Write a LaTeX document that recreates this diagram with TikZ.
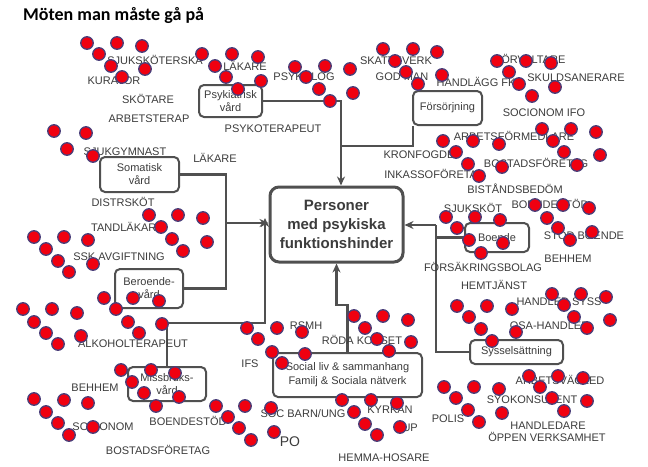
\documentclass[tikz,border=0pt]{standalone}
\usepackage{fontspec}
\setmainfont{Liberation Sans}
\newfontfamily\titlefont{Carlito}
\usetikzlibrary{arrows.meta}
\definecolor{txt}{HTML}{3C3C3C}
\definecolor{ln}{HTML}{505050}
\definecolor{dotred}{HTML}{F00010}
\definecolor{dotrim}{HTML}{4A3F7A}
\begin{document}
\begin{tikzpicture}[x=1pt,y=-1pt,
 lbl/.style={inner sep=0pt, text height=8pt, text depth=0pt, font=\fontsize{11}{13}\selectfont, text=txt},
 box/.style={draw=ln, line width=2pt, rounded corners=5pt, align=center, inner sep=0pt, font=\fontsize{11}{13}\selectfont, text=txt},
 conn/.style={draw=ln, line width=2.2pt},
 arr/.style={conn, -{Stealth[length=9pt,width=8pt]}},
 dot/.style={circle, fill=dotred, draw=dotrim, line width=1.3pt, minimum size=12.5pt, inner sep=0pt}]
\useasboundingbox[fill=white] (0,0) rectangle (648,466);

\node[anchor=base west, inner sep=0pt, font=\titlefont\bfseries\fontsize{18}{21}\selectfont, text=black] (title) at (23,20.5) {Möten man måste gå på};

% boxes
\node[box, line width=3pt, rounded corners=9pt, minimum width=133pt, minimum height=75pt, font=\bfseries\fontsize{15}{19}\selectfont] (center) at (336.5,224.5) {Personer\\med psykiska\\funktionshinder};
\node[box, minimum width=63pt, minimum height=32pt] (psyk) at (230.5,101) {Psykiatrisk\\vård};
\node[box, minimum width=69pt, minimum height=34pt] (fors) at (447.5,108) {Försörjning};
\node[box, minimum width=79pt, minimum height=35pt] (som) at (139.5,174.5) {Somatisk\\vård};
\node[box, minimum width=68pt, minimum height=39pt] (ber) at (149,288.5) {Beroende-\\vård};
\node[box, minimum width=78pt, minimum height=34pt] (miss) at (167,384) {Missbruks-\\vård};
\node[box, minimum width=149pt, minimum height=44pt, font=\fontsize{11}{14}\selectfont] (soc) at (347.5,375) {Social liv \& sammanhang\\Familj \& Sociala nätverk};
\node[box, minimum width=93pt, minimum height=24pt] (syss) at (516.5,352) {Sysselsättning};
\node[box, minimum width=64pt, minimum height=29pt] (boende) at (497,237.5) {Boende};

% connector junctions
\coordinate (jtop) at (341,146);
\coordinate (jleft) at (226,223);
\coordinate (jmiss) at (265,323);
\coordinate (jsoc) at (347.5,305);
\coordinate (jright) at (436,225);

\draw[arr] (psyk.east) -| ([xshift=4.5pt]center.north);
\draw[conn] ([xshift=1pt]fors.south west) |- (jtop);
\draw[conn] (som.east) -| (jleft);
\draw[conn] (ber.east) -| (jleft);
\draw[arr] (jleft) -- (jleft -| center.west);
\draw[arr] (miss.north) |- (jmiss) -- ([yshift=5pt]jmiss |- jleft);
\draw[arr] (soc.north) -- (jsoc) -| (center.south);
\draw[conn] (syss.west) -| (jright);
\draw[conn] (boende.west) -- (boende.west -| jright);
\draw[arr] (jright) -- (jright -| center.east);

% labels
\node[lbl] (l1) at (155,60) {SJUKSKÖTERSKA};
\node[lbl] (l2) at (245,66) {LÄKARE};
\node[lbl] (l3) at (114,80) {KURATOR};
\node[lbl] (l4) at (148,99) {SKÖTARE};
\node[lbl] (l5) at (149,118) {ARBETSTERAP};
\node[lbl] (l6) at (273,128) {PSYKOTERAPEUT};
\node[lbl] (l7) at (304,76) {PSYKOLOG};
\node[lbl] (l8) at (125,151) {SJUKGYMNAST};
\node[lbl] (l9) at (215,158) {LÄKARE};
\node[lbl] (l10) at (123,202) {DISTRSKÖT};
\node[lbl] (l11) at (127.5,227) {TANDLÄKARE};
\node[lbl] (l12) at (119,256) {SSK AVGIFTNING};
\node[lbl] (l13) at (133,343) {ALKOHOLTERAPEUT};
\node[lbl] (l14) at (95,387) {BEHHEM};
\node[lbl] (l15) at (103,426) {SOCIONOM};
\node[lbl] (l16) at (158,450) {BOSTADSFÖRETAG};
\node[lbl] (l17) at (188,421) {BOENDESTÖD};
\node[lbl] (l18) at (250,363) {IFS};
\node[lbl] (l19) at (306,325) {RSMH};
\node[lbl] (l20) at (362,340) {RÖDA KORSET};
\node[lbl] (l21) at (303,413) {SOC BARN/UNG};
\node[lbl, text height=10pt, font=\fontsize{14}{16}\selectfont] (l22) at (290,441) {PO};
\node[lbl] (l23) at (390,409) {KYRKAN};
\node[lbl] (l24) at (406.5,427) {BUP};
\node[lbl] (l25) at (384,457) {HEMMA-HOSARE};
\node[lbl] (l26) at (448,418) {POLIS};
\node[lbl] (l27) at (532,399) {SYOKONSULENT};
\node[lbl] (l28) at (560,380) {ARBETSVÄGLED};
\node[lbl] (l29) at (548,425) {HANDLEDARE};
\node[lbl] (l30) at (547,437) {ÖPPEN VERKSAMHET};
\node[lbl] (l31) at (559,301) {HANDLED SYSS};
\node[lbl] (l32) at (549.5,325) {OSA-HANDLED};
\node[lbl] (l33) at (494,285) {HEMTJÄNST};
\node[lbl] (l34) at (483,267) {FÖRSÄKRINGSBOLAG};
\node[lbl] (l35) at (568,258) {BEHHEM};
\node[lbl] (l36) at (584,235) {STÖD BOENDE};
\node[lbl] (l37) at (550,204) {BOENDESTÖD};
\node[lbl] (l38) at (473,208) {SJUKSKÖT};
\node[lbl] (l39) at (515,189) {BISTÅNDSBEDÖM};
\node[lbl] (l40) at (435,174) {INKASSOFÖRETAG};
\node[lbl] (l41) at (536,163) {BOSTADSFÖRETAG};
\node[lbl] (l42) at (419,154) {KRONFOGDE};
\node[lbl] (l43) at (514,136) {ARBETSFÖRMEDLARE};
\node[lbl] (l44) at (544,112) {SOCIONOM IFO};
\node[lbl] (l45) at (576,77) {SKULDSANERARE};
\node[lbl] (l46) at (530,59) {FÖRVALTARE};
\node[lbl] (l47) at (476,82) {HANDLÄGG FK};
\node[lbl] (l48) at (402,76) {GOD MAN};
\node[lbl] (l49) at (396,60) {SKATTEVERK};

% red dots
\foreach \x/\y [count=\i] in {
 87/43,117/43,142/46,99/54,111/66,122/77,145/69,
 202/54,232/54,258/57,215/66,226/77,261/81,238/89,
 295/67,306/77,325/66,319/89,330/101,350/69,353/93,
 54/131,86/133,67/149,93/156,
 383/49,413/49,437/52,395/61,406/72,418/84,442/75,
 497/61,526/61,551/63,509/72,519/84,532/96,555/87,
 443/141,473/141,499/144,456/152,468/164,502/167,479/176,
 542/129,571/129,596/132,553/141,564/152,600/155,577/165,
 446/217,475/217,500/220,457/228,469/240,503/243,481/253,
 535/205,563/205,589/208,547/218,558/228,570/240,592/232,
 552/294,581/294,606/297,564/305,574/317,610/320,587/328,
 457/306,487/306,512/309,469/317,481/329,492/341,516/332,
 529/376,558/376,583/378,540/387,552/398,587/401,564/411,
 444/387,474/387,499/389,456/398,468/410,479/422,502/413,
 354/316,383/316,408/320,365/328,377/339,411/342,389/351,
 342/400,371/400,397/403,354/412,365/424,377/435,400/427,
 247/328,277/328,302/332,258/339,272/352,282/363,305/354,
 216/406,245/406,271/408,228/417,239/428,251/440,274/432,
 149/215,178/215,203/218,161/227,172/239,207/242,183/251,
 34/237,64/237,88/240,46/249,58/261,93/264,69/272,
 104/298,133/298,159/301,116/309,128/322,139/333,162/324,
 23/309,52/309,77/313,34/322,46/333,81/336,58/344,
 121/370,151/370,175/373,132/382,144/393,179/397,156/406,
 34/399,64/400,88/403,46/412,58/423,93/427,69/435}
 \node[dot] (d\i) at (\x,\y) {};
\end{tikzpicture}
\end{document}
